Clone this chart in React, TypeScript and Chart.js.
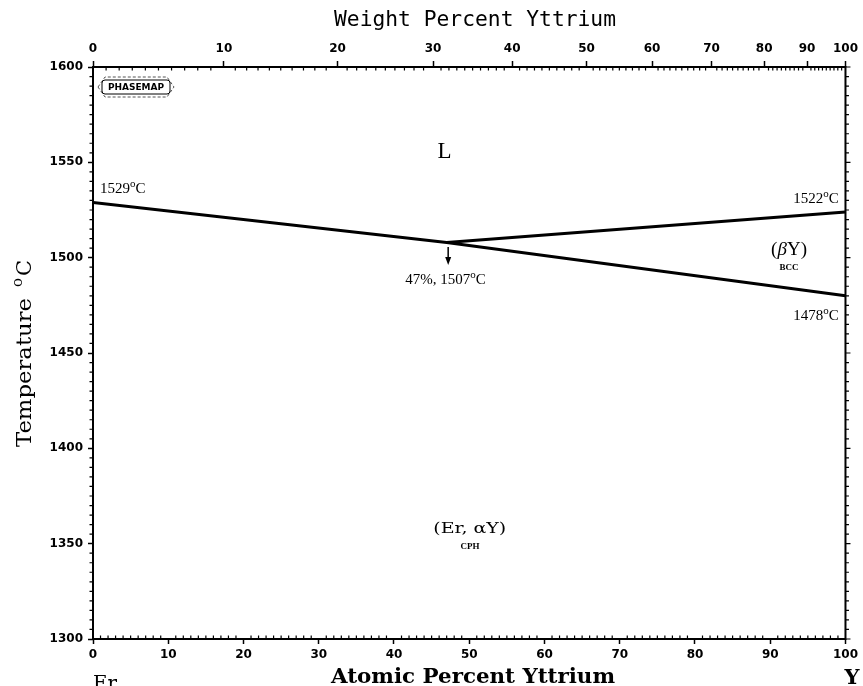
import React, { useEffect, useRef } from "react";
import { Chart, registerables } from "chart.js";

Chart.register(...registerables);

// ---- data ----
const upperLineAtPctY = [0, 47, 100];
const upperLineTempC = [1529, 1508, 1480];
const branchAtPctY = [47, 100];
const branchTempC = [1508, 1524];

// ---- axis ticks ----
const atomicTicks = [0, 10, 20, 30, 40, 50, 60, 70, 80, 90, 100];
const tempTicks = [1300, 1350, 1400, 1450, 1500, 1550, 1600];
const weightTickLabels = [0, 10, 20, 30, 40, 50, 60, 70, 80, 90, 100];
const weightTickAtomicPos = [0, 17.4, 32.5, 45.2, 55.7, 65.6, 74.3, 82.2, 89.2, 94.9, 100];

const TICK_FONT = { family: '"DejaVu Sans", sans-serif', weight: "bold" as const, size: 12 };
const SERIF = '"Liberation Serif", "Times New Roman", serif';
const SLAB = '"DejaVu Serif", serif';

// draw text squeezed/stretched horizontally to a given width; x = left edge
function fitText(ctx: CanvasRenderingContext2D, text: string, x: number, y: number, width: number) {
  const w = ctx.measureText(text).width;
  ctx.save();
  ctx.translate(x, y);
  ctx.scale(width / w, 1);
  ctx.textAlign = "left";
  ctx.fillText(text, 0, 0);
  ctx.restore();
}

function degLabel(ctx: CanvasRenderingContext2D, text: string, x: number, y: number, align: "left" | "right" | "center") {
  const main = `15px ${SERIF}`;
  const sup = `11px ${SERIF}`;
  ctx.font = main;
  const w1 = ctx.measureText(text).width;
  const wC = ctx.measureText("C").width;
  ctx.font = sup;
  const wo = ctx.measureText("o").width;
  const total = w1 + wo + wC;
  const sx = align === "left" ? x : align === "right" ? x - total : x - total / 2;
  ctx.textAlign = "left";
  ctx.textBaseline = "alphabetic";
  ctx.font = main;
  ctx.fillText(text, sx, y);
  ctx.font = sup;
  ctx.fillText("o", sx + w1, y - 6);
  ctx.font = main;
  ctx.fillText("C", sx + w1 + wo, y);
}

const decorPlugin = {
  id: "decor",
  afterDraw(chart: any) {
    const ctx: CanvasRenderingContext2D = chart.ctx;
    const { left, right, top, bottom } = chart.chartArea;
    const xs = chart.scales.x;
    const ys = chart.scales.y;
    const X = (v: number) => xs.getPixelForValue(v);
    const Y = (v: number) => ys.getPixelForValue(v);
    ctx.save();
    ctx.fillStyle = "#000";
    ctx.strokeStyle = "#000";

    // frame
    ctx.lineWidth = 2;
    ctx.strokeRect(left, top, right - left, bottom - top);

    // minor ticks
    ctx.lineWidth = 1.2;
    ctx.beginPath();
    for (let v = 0; v <= 100; v += 1) {
      if (v % 10 === 0) continue;
      const px = X(v);
      ctx.moveTo(px, bottom);
      ctx.lineTo(px, bottom - 3.5);
    }
    for (let i = 0; i < weightTickAtomicPos.length - 1; i++) {
      const a = weightTickAtomicPos[i];
      const b = weightTickAtomicPos[i + 1];
      for (let k = 1; k < 10; k++) {
        const px = X(a + ((b - a) * k) / 10);
        ctx.moveTo(px, top);
        ctx.lineTo(px, top + 3.5);
      }
    }
    for (let t = 1300; t <= 1600; t += 5) {
      const py = Y(t);
      if (t % 50 !== 0) {
        ctx.moveTo(left, py);
        ctx.lineTo(left - 3.5, py);
      }
      ctx.moveTo(right, py);
      ctx.lineTo(right + (t % 50 === 0 ? 5 : 3.5), py);
    }
    ctx.stroke();

    // axis titles
    ctx.textBaseline = "alphabetic";
    ctx.font = `21px "DejaVu Sans Mono", monospace`;
    fitText(ctx, "Weight Percent Yttrium", 334, 26, 282);
    ctx.font = `bold 21px ${SLAB}`;
    fitText(ctx, "Atomic Percent Yttrium", 331, 683, 284);
    ctx.font = `21px ${SLAB}`;
    fitText(ctx, "Er", left, 690, 24);
    ctx.font = `bold 21px ${SLAB}`;
    fitText(ctx, "Y", right - 1, 684, 15);

    // y axis title (rotated)
    ctx.save();
    ctx.translate(31, 447);
    ctx.rotate(-Math.PI / 2);
    ctx.font = `21px ${SLAB}`;
    fitText(ctx, "Temperature", 0, 0, 149);
    ctx.font = `15px ${SLAB}`;
    ctx.textAlign = "left";
    ctx.fillText("o", 160, -9);
    ctx.font = `21px ${SLAB}`;
    ctx.fillText("C", 171, 0);
    ctx.restore();

    // phase labels
    ctx.textAlign = "center";
    ctx.textBaseline = "middle";
    ctx.font = `23px ${SERIF}`;
    ctx.fillText("L", X(46.7), Y(1555.4));

    // (βY) drawn piecewise so the β can be italic
    {
      const f1 = `19px ${SERIF}`;
      const f2 = `italic 19px ${SERIF}`;
      ctx.font = f1;
      const wOpen = ctx.measureText("(").width;
      const wRest = ctx.measureText("Y)").width;
      ctx.font = f2;
      const wBeta = ctx.measureText("β").width;
      const total = wOpen + wBeta + wRest;
      let sx = X(92.5) - total / 2;
      const sy = Y(1504);
      ctx.textAlign = "left";
      ctx.font = f1;
      ctx.fillText("(", sx, sy);
      sx += wOpen;
      ctx.font = f2;
      ctx.fillText("β", sx, sy);
      sx += wBeta;
      ctx.font = f1;
      ctx.fillText("Y)", sx, sy);
    }
    ctx.textAlign = "center";
    ctx.font = `bold 9px ${SERIF}`;
    ctx.fillText("BCC", X(92.5), Y(1494.5));

    ctx.font = `15px ${SLAB}`;
    ctx.textBaseline = "middle";
    fitText(ctx, "(Er, αY)", X(50) - 36, Y(1357.6), 73);
    ctx.textAlign = "center";
    ctx.font = `bold 9px ${SERIF}`;
    ctx.fillText("CPH", X(50.1), Y(1348.2));

    // temperature labels
    degLabel(ctx, "1529", X(0.93), Y(1533.9), "left");
    degLabel(ctx, "1522", X(99.1), Y(1528.6), "right");
    degLabel(ctx, "1478", X(99.1), Y(1467.3), "right");
    degLabel(ctx, "47%, 1507", X(41.5), Y(1486.1), "left");

    // arrow
    const ax = X(47.2);
    const ay1 = Y(1505.6);
    const ay2 = Y(1496.1);
    ctx.lineWidth = 1.5;
    ctx.beginPath();
    ctx.moveTo(ax, ay1);
    ctx.lineTo(ax, ay2 - 6);
    ctx.stroke();
    ctx.beginPath();
    ctx.moveTo(ax - 3, ay2 - 8);
    ctx.lineTo(ax + 3, ay2 - 8);
    ctx.lineTo(ax, ay2);
    ctx.closePath();
    ctx.fill();

    // PHASEMAP logo
    const lx = left + 8;
    const ly = top + 12;
    ctx.lineWidth = 1;
    ctx.strokeStyle = "#555";
    ctx.setLineDash([3, 2]);
    ctx.beginPath();
    ctx.moveTo(lx - 3, ly + 8);
    ctx.lineTo(lx + 4, ly - 2);
    ctx.lineTo(lx + 66, ly - 2);
    ctx.lineTo(lx + 73, ly + 8);
    ctx.lineTo(lx + 66, ly + 18);
    ctx.lineTo(lx + 4, ly + 18);
    ctx.closePath();
    ctx.stroke();
    ctx.setLineDash([]);
    ctx.strokeStyle = "#000";
    ctx.beginPath();
    (ctx as any).roundRect ? (ctx as any).roundRect(lx + 1, ly + 1, 68, 14, 3) : ctx.rect(lx + 1, ly + 1, 68, 14);
    ctx.stroke();
    ctx.font = `bold 9px "DejaVu Sans", sans-serif`;
    ctx.textAlign = "center";
    ctx.textBaseline = "middle";
    ctx.fillText("PHASEMAP", lx + 35, ly + 8.5);

    ctx.restore();
  },
};

export default function App() {
  const canvasRef = useRef<HTMLCanvasElement | null>(null);

  useEffect(() => {
    if (!canvasRef.current) return;
    const lineStyle = {
      borderColor: "#000",
      borderWidth: 3,
      pointRadius: 0,
      tension: 0,
      fill: false,
      xAxisID: "x",
      yAxisID: "y",
    };
    const chart = new Chart(canvasRef.current, {
      type: "line",
      data: {
        datasets: [
          { ...lineStyle, data: upperLineAtPctY.map((x, i) => ({ x, y: upperLineTempC[i] })) },
          { ...lineStyle, data: branchAtPctY.map((x, i) => ({ x, y: branchTempC[i] })) },
        ],
      },
      options: {
        responsive: true,
        maintainAspectRatio: false,
        animation: false,
        layout: { padding: { left: 0, right: 14, top: 0, bottom: 0 } },
        plugins: { legend: { display: false }, tooltip: { enabled: false } },
        scales: {
          x: {
            type: "linear",
            position: "bottom",
            min: 0,
            max: 100,
            afterBuildTicks: (s: any) => {
              s.ticks = atomicTicks.map((v) => ({ value: v }));
            },
            afterFit: (s: any) => {
              s.height = 47;
            },
            ticks: { font: TICK_FONT, color: "#000", padding: 4, maxRotation: 0, autoSkip: false, callback: (v: any) => String(v) },
            grid: { display: true, drawOnChartArea: false, drawTicks: true, tickLength: 5, tickColor: "#000", tickWidth: 1.5 },
            border: { display: false },
          },
          x2: {
            type: "linear",
            position: "top",
            min: 0,
            max: 100,
            afterBuildTicks: (s: any) => {
              s.ticks = weightTickAtomicPos.map((v) => ({ value: v }));
            },
            afterFit: (s: any) => {
              s.height = 67;
            },
            ticks: {
              font: TICK_FONT,
              color: "#000",
              padding: 5,
              maxRotation: 0,
              autoSkip: false,
              callback: (_v: any, i: number) => String(weightTickLabels[i]),
            },
            grid: { display: true, drawOnChartArea: false, drawTicks: true, tickLength: 6, tickColor: "#000", tickWidth: 1.5 },
            border: { display: false },
          },
          y: {
            type: "linear",
            position: "left",
            min: 1300,
            max: 1600,
            afterBuildTicks: (s: any) => {
              s.ticks = tempTicks.map((v) => ({ value: v }));
            },
            afterFit: (s: any) => {
              s.width = 93;
            },
            ticks: { font: TICK_FONT, color: "#000", padding: 5, autoSkip: false, callback: (v: any) => String(v) },
            grid: { display: true, drawOnChartArea: false, drawTicks: true, tickLength: 5, tickColor: "#000", tickWidth: 1.5 },
            border: { display: false },
          },
        },
      } as any,
      plugins: [decorPlugin],
    });
    return () => chart.destroy();
  }, []);

  return (
    <div style={{ position: "fixed", left: 0, top: 0, width: 863, height: 686, background: "#fff" }}>
      <canvas ref={canvasRef} />
    </div>
  );
}
